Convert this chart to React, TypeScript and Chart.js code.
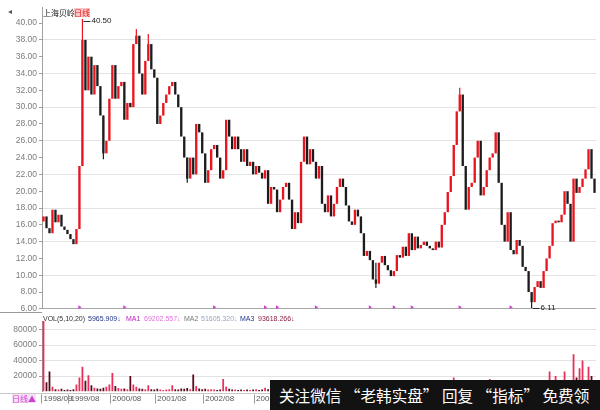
import React, { useEffect, useRef } from "react";
import { Chart, registerables } from "chart.js";
Chart.register(...registerables);

// ---- data ----
const firstOpen = 16.4;
const closes = [
  17.0, 15.6, 15.0, 17.8, 16.3, 17.2, 15.8, 15.4, 14.9, 14.3,
  13.7, 15.5, 23.0, 38.0, 32.0, 36.0, 31.5, 35.0, 32.5, 29.0,
  24.5, 26.0, 31.0, 35.0, 31.0, 32.5, 33.0, 28.5, 30.5, 30.0,
  37.5, 38.5, 34.0, 31.5, 35.5, 37.5, 34.5, 33.5, 28.0, 29.0,
  30.5, 31.5, 32.5, 33.0, 31.5, 30.0, 26.5, 24.0, 21.5, 24.0,
  22.0, 28.0, 27.0, 24.5, 21.0, 22.5, 25.0, 25.5, 24.0, 21.5,
  22.5, 28.5, 26.5, 25.0, 26.5, 25.0, 23.5, 25.0, 23.0, 23.5,
  22.0, 23.0, 22.2, 21.5, 22.5, 18.5, 20.5, 20.2, 17.5, 19.0,
  20.5, 21.0, 19.0, 15.5, 17.5, 16.2, 23.5, 26.5, 23.2, 25.0,
  23.5, 21.5, 23.0, 18.5, 17.5, 19.5, 17.0, 18.5, 20.5, 21.5,
  20.5, 18.3, 16.4, 16.0, 17.8, 17.0, 15.0, 12.3, 12.9, 11.8,
  9.5, 9.0, 11.5, 12.3, 11.2, 10.6, 9.9, 10.5, 12.4, 12.1,
  13.4, 12.3, 15.0, 13.0, 14.6, 13.2, 13.6, 14.0, 13.5, 13.2,
  13.0, 14.0, 13.3, 16.0, 17.5, 19.9, 21.8, 25.5, 29.5, 31.5,
  23.0, 17.8, 20.5, 21.0, 24.0, 26.0, 19.5, 20.5, 22.5, 24.0,
  24.5, 27.0, 21.0, 16.0, 14.0, 17.5, 13.0, 12.5, 14.2, 13.5,
  11.0, 10.5, 8.0, 6.8, 8.6, 9.3, 8.5, 10.5, 12.0, 13.5,
  16.2, 16.5, 16.3, 17.2, 20.0, 18.5, 14.0, 21.5, 19.8, 20.5,
  21.5, 22.6, 25.0, 21.5, 19.8,
];
const volumes = [
  95000, 12000, 26000, 6000, 3000, 2500, 3500, 2000, 2500, 2000,
  3000, 9000, 18000, 32000, 14000, 21000, 8000, 5000, 4000, 3500,
  5000, 6000, 9000, 24000, 7000, 4500, 3500, 4000, 3000, 20000,
  9000, 6000, 4000, 3500, 3000, 8000, 3000, 2500, 3500, 2500,
  2000, 2500, 3000, 8000, 3000, 2500, 4000, 3500, 4500, 3000,
  22000, 7000, 4000, 3000, 3500, 2500, 3000, 2500, 2000, 2500,
  16000, 6000, 3500, 2500, 2500, 2000, 2500, 2000, 2500, 2000,
  2500, 3000, 2000, 2500, 5000, 3000, 2500, 2000, 3000, 2500,
  2000, 2500, 3000, 4000, 3000, 2500, 12000, 9000, 4000, 3500,
  3000, 2500, 3000, 3500, 2500, 2000, 3000, 2500, 2000, 2500,
  2000, 2500, 3000, 2500, 2000, 2500, 3500, 5000, 6000, 4000,
  5000, 6000, 4000, 3000, 2500, 2000, 2500, 3000, 3500, 2500,
  3000, 2500, 4000, 3000, 3500, 2500, 3000, 2500, 2000, 2500,
  2000, 2500, 3000, 6000, 8000, 10000, 14000, 18000, 12000, 15000,
  10000, 7000, 5000, 4000, 9000, 9000, 5000, 4000, 4500, 16000,
  8000, 8000, 6000, 5000, 4000, 3500, 3000, 2500, 3000, 2500,
  3000, 3500, 4000, 5000, 3500, 3000, 4000, 5000, 14000, 26000,
  12000, 20000, 10000, 8000, 26000, 12000, 9000, 48000, 18000, 30000,
  40000, 15000, 32000, 20000, 12000,
];
const wickIndex = [13, 20, 31, 35, 48, 111, 139, 163];
const wickLow = [23.0, 23.8, 37.5, 35.5, 21.0, 8.5, 29.5, 6.11];
const wickHigh = [40.5, 29.0, 39.3, 38.7, 24.0, 11.5, 32.3, 8.0];
const flagIndex = [12, 27, 57, 74, 78, 91, 109, 117, 123, 139, 156];
const dateLabels = ["1998/09", "1999/08", "2000/08", "2001/08", "2002/08", "2003/08"];
const dateIndex = [0, 9, 23, 38, 54, 71];
const volTicks = [20000, 40000, 60000, 80000];

const RED = "#e8141e";
const BLACK = "#1c1c1c";
const AXIS_W = 42;
const PAD_R = 4;

const opens = closes.map((c, i) => (i === 0 ? firstOpen : closes[i - 1]));
const labels = closes.map((_, i) => String(i));
const isUp = closes.map((c, i) => c >= opens[i]);

const tickFont = { size: 8.5, family: "'Liberation Sans', Arial, sans-serif" };

export default function App() {
  const priceRef = useRef<HTMLCanvasElement | null>(null);
  const volRef = useRef<HTMLCanvasElement | null>(null);

  useEffect(() => {
    const wickData: any[] = closes.map(() => null);
    wickIndex.forEach((idx, k) => {
      wickData[idx] = [wickLow[k], wickHigh[k]];
    });
    const flagData: any[] = closes.map(() => null);
    flagIndex.forEach((idx) => {
      flagData[idx] = 6.2;
    });

    const extremaPlugin = {
      id: "extrema",
      afterDatasetsDraw(chart: any) {
        const { ctx, scales } = chart;
        const x = scales.x;
        const y = scales.y;
        let hi = 0;
        let lo = 0;
        wickHigh.forEach((v, k) => { if (v > wickHigh[hi]) hi = k; });
        wickLow.forEach((v, k) => { if (v < wickLow[lo]) lo = k; });
        ctx.save();
        ctx.strokeStyle = "#333";
        ctx.fillStyle = "#222";
        ctx.lineWidth = 1;
        ctx.font = "8px 'Liberation Sans', Arial, sans-serif";
        ctx.textBaseline = "middle";
        const hx = x.getPixelForValue(wickIndex[hi]);
        const hy = y.getPixelForValue(wickHigh[hi]);
        ctx.beginPath();
        ctx.moveTo(hx + 1, Math.round(hy + 2) + 0.5);
        ctx.lineTo(hx + 8, Math.round(hy + 2) + 0.5);
        ctx.stroke();
        ctx.fillText(wickHigh[hi].toFixed(2), hx + 9, hy + 2);
        const lx = x.getPixelForValue(wickIndex[lo]);
        const ly = y.getPixelForValue(wickLow[lo]);
        ctx.beginPath();
        ctx.moveTo(lx + 1, Math.round(ly) + 0.5);
        ctx.lineTo(lx + 8, Math.round(ly) + 0.5);
        ctx.stroke();
        ctx.fillText(wickLow[lo].toFixed(2), lx + 9, ly);
        ctx.restore();
      },
    };

    const price = new Chart(priceRef.current as HTMLCanvasElement, {
      type: "bar",
      data: {
        labels,
        datasets: [
          {
            type: "bar",
            data: wickData,
            backgroundColor: closes.map((_, i) => (isUp[i] ? RED : BLACK)),
            grouped: false,
            categoryPercentage: 1,
            barPercentage: 0.4,
            order: 3,
          } as any,
          {
            type: "bar",
            data: closes.map((c, i) => [opens[i], c]),
            backgroundColor: closes.map((_, i) => (isUp[i] ? RED : BLACK)),
            grouped: false,
            categoryPercentage: 1,
            barPercentage: 0.78,
            minBarLength: 1,
            order: 2,
          } as any,
          {
            type: "line",
            data: flagData,
            showLine: false,
            clip: false,
            pointStyle: "triangle",
            rotation: 90,
            pointRadius: 2.2,
            pointBackgroundColor: "#d23cd2",
            pointBorderWidth: 0,
            borderColor: "#d23cd2",
            order: 1,
          } as any,
        ],
      },
      options: {
        responsive: false,
        animation: false,
        layout: { padding: { top: 5, bottom: 4, left: 0, right: PAD_R } },
        plugins: { legend: { display: false }, tooltip: { enabled: false } },
        scales: {
          x: { display: false },
          y: {
            min: 6,
            max: 41.9,
            afterFit: (s: any) => { s.width = AXIS_W; },
            border: { color: "#a0a0a0" },
            grid: {
              color: (c: any) => {
                const v = c.tick ? c.tick.value : 0;
                if (Math.abs(v - 6) < 1e-6) return "#a8a8a8";
                return Math.abs((v - 6) % 4) < 1e-6 && v <= 40 ? "#e3e3e3" : "rgba(0,0,0,0)";
              },
              tickColor: "#a0a0a0",
              tickLength: 3,
            },
            ticks: {
              stepSize: 2,
              includeBounds: false,
              color: "#7c7c7c",
              font: tickFont,
              padding: 2,
              autoSkip: false,
              callback: (v: any) => (v >= 6 && v <= 40 ? Number(v).toFixed(2) : ""),
            },
          },
        },
      },
      plugins: [extremaPlugin],
    });

    const bottomPlugin = {
      id: "bottomRow",
      afterDraw(chart: any) {
        const { ctx, chartArea, scales } = chart;
        ctx.save();
        ctx.strokeStyle = "#c8c8c8";
        ctx.beginPath();
        ctx.moveTo(0, Math.round(chartArea.bottom) + 1.5);
        ctx.lineTo(600, Math.round(chartArea.bottom) + 1.5);
        ctx.stroke();
        ctx.fillStyle = "#555";
        ctx.font = "8px 'Liberation Sans', Arial, sans-serif";
        ctx.textBaseline = "middle";
        dateLabels.forEach((t, k) => {
          const px = scales.x.getPixelForValue(dateIndex[k]);
          ctx.fillText(t, px, chartArea.bottom + 7.5);
          ctx.strokeStyle = "#999";
          ctx.beginPath();
          ctx.moveTo(Math.round(px) - 1.5, chartArea.bottom + 3);
          ctx.lineTo(Math.round(px) - 1.5, chartArea.bottom + 12);
          ctx.stroke();
        });
        ctx.restore();
      },
    };

    const vol = new Chart(volRef.current as HTMLCanvasElement, {
      type: "bar",
      data: {
        labels,
        datasets: [
          {
            data: volumes,
            backgroundColor: closes.map((_, i) => (isUp[i] ? "#e8305a" : "#5a0c1e")),
            categoryPercentage: 1,
            barPercentage: 0.6,
          },
        ],
      },
      options: {
        responsive: false,
        animation: false,
        layout: { padding: { top: 2, bottom: 18.5, left: 0, right: PAD_R } },
        plugins: { legend: { display: false }, tooltip: { enabled: false } },
        scales: {
          x: { display: false },
          y: {
            min: 0,
            max: 91000,
            afterFit: (s: any) => { s.width = AXIS_W; },
            afterBuildTicks: (s: any) => {
              s.ticks = volTicks.map((v) => ({ value: v }));
            },
            border: { color: "#a0a0a0" },
            grid: { color: "#e3e3e3", tickColor: "#a0a0a0", tickLength: 3 },
            ticks: {
              color: "#7c7c7c",
              font: tickFont,
              padding: 2,
              autoSkip: false,
              callback: (v: any) => String(v),
            },
          },
        },
      },
      plugins: [bottomPlugin],
    });

    return () => {
      price.destroy();
      vol.destroy();
    };
  }, []);

  const small: React.CSSProperties = {
    position: "absolute",
    fontSize: 7,
    fontFamily: "'Liberation Sans', Arial, sans-serif",
    whiteSpace: "nowrap",
    lineHeight: "9px",
  };

  return (
    <div style={{ position: "absolute", left: 0, top: 0, width: 600, height: 410, background: "#fff", overflow: "hidden" }}>
      <canvas ref={priceRef} width={600} height={316} style={{ position: "absolute", left: 0, top: 0 }} />
      <canvas ref={volRef} width={600} height={96} style={{ position: "absolute", left: 0, top: 314 }} />
      <div style={{ position: "absolute", left: 0, top: 312, width: 42, height: 1, background: "#999" }} />
      <div style={{ ...small, left: 43, top: 8, fontSize: 8, fontFamily: "'Noto Sans CJK SC', sans-serif", color: "#222" }}>上海贝岭</div>
      <div style={{ ...small, left: 74, top: 8, fontSize: 8, fontFamily: "'Noto Sans CJK SC', sans-serif", color: "#e02020", background: "#f8c8c8" }}>日线</div>
      <div style={{ ...small, left: 8, top: 7, fontSize: 8, color: "#555" }}>◂</div>
      <div style={{ ...small, left: 43, top: 314, color: "#333" }}>VOL(5,10,20)</div>
      <div style={{ ...small, left: 88, top: 314, color: "#223388" }}>5965.909↓</div>
      <div style={{ ...small, left: 126, top: 314, color: "#c020c0" }}>MA1</div>
      <div style={{ ...small, left: 144, top: 314, color: "#e070e0" }}>69202.557↓</div>
      <div style={{ ...small, left: 184, top: 314, color: "#777" }}>MA2</div>
      <div style={{ ...small, left: 201, top: 314, color: "#99a6c0" }}>51605.320↓</div>
      <div style={{ ...small, left: 240, top: 314, color: "#223388" }}>MA3</div>
      <div style={{ ...small, left: 258, top: 314, color: "#8a2040" }}>93618.266↓</div>
      <div style={{ ...small, left: 12, top: 394, fontSize: 8, fontFamily: "'Noto Sans CJK SC', sans-serif", color: "#d040d0", background: "#f6e0f6" }}>日线▲</div>
      <div
        style={{
          position: "absolute",
          left: 270,
          top: 380,
          width: 330,
          height: 30,
          background: "#121212",
          color: "#fff",
          fontFamily: "'Noto Sans CJK SC', sans-serif",
          fontSize: 15.6,
          lineHeight: "30px",
          paddingLeft: 9,
          boxSizing: "border-box",
          whiteSpace: "nowrap",
        }}
      >
        关注微信 “老韩实盘” 回复 “指标” 免费领
      </div>
    </div>
  );
}
